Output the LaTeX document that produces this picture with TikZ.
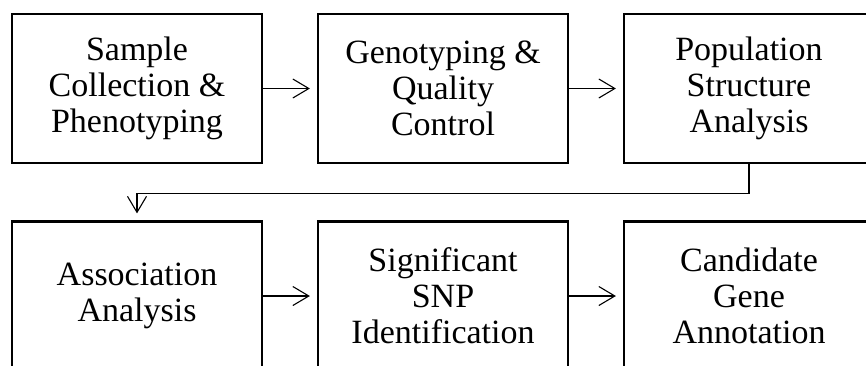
\documentclass[tikz,border=0pt]{standalone}
\usepackage{fontspec}
\setmainfont{Liberation Serif}
\usetikzlibrary{arrows.meta}
\begin{document}
\begin{tikzpicture}[x=1pt,y=-1pt,
  stepbox/.style={draw=black, line width=2.2pt, minimum width=250pt, minimum height=149pt,
    inner sep=0pt, align=center, font=\fontsize{34}{36}\selectfont},
  arr/.style={line width=1.1pt, shorten >=7pt, -{Straight Barb[length=16pt,width=19pt,line width=1.1pt]}}]
\clip (0,0) rectangle (866,365);
\fill[white] (0,0) rectangle (866,365);
\node[stepbox] (a) at (137,88.5) {Sample\\Collection \&\\Phenotyping};
\node[stepbox] (b) at (443,88.5) {Genotyping \&\\Quality\\Control};
\node[stepbox] (c) at (749,88.5) {Population\\Structure\\Analysis};
\node[stepbox] (d) at (137,296) {Association\\Analysis};
\node[stepbox] (e) at (443,296) {Significant\\SNP\\Identification};
\node[stepbox] (f) at (749,296) {Candidate\\Gene\\Annotation};
\draw[arr] (a.east) -- (b.west);
\draw[arr] (b.east) -- (c.west);
\draw[arr] (c.south) -- ++(0,29) -| (d.north);
\draw[arr] (d.east) -- (e.west);
\draw[arr] (e.east) -- (f.west);
\end{tikzpicture}
\end{document}
